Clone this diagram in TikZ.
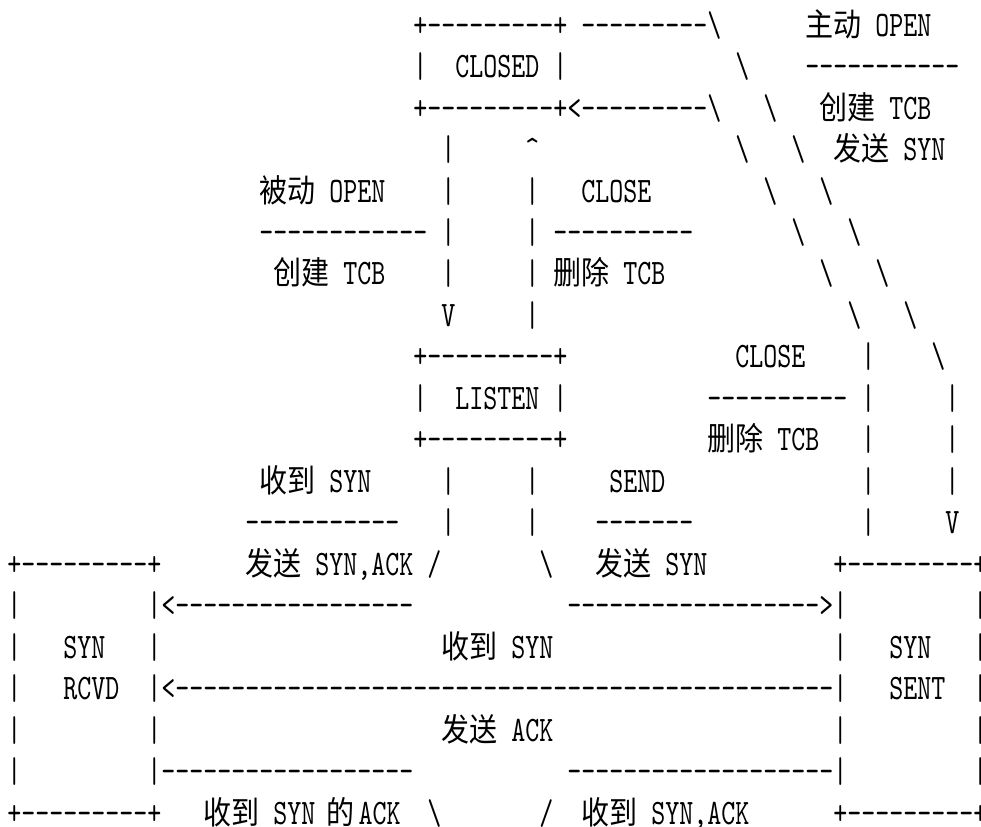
\documentclass[tikz,border=0pt]{standalone}
\usepackage{fontspec}
\usetikzlibrary{positioning}
\newfontfamily\ascfont[FakeStretch=0.744]{lmmono10-regular.otf}
\newfontfamily\hanfont[FakeStretch=0.874]{Noto Sans CJK SC}
\newcommand{\dashes}[1]{\foreach\k in {1,...,#1}{-}}
\newcommand{\bks}{\textbackslash}
\tikzset{
  asc/.style={anchor=base west,inner sep=0pt,outer sep=0pt,font=\ascfont\fontsize{25.5}{28}\selectfont},
  han/.style={anchor=base west,inner sep=0pt,outer sep=0pt,font=\hanfont\fontsize{22.8}{28}\selectfont},
  every picture/.style={x=0.35cm,y=-1.037cm}
}
\begin{document}
\begin{tikzpicture}
  \fill[white] (0.48,-0.87) rectangle (70.55,19.043);
  \useasboundingbox (0.48,-0.87) rectangle (70.55,19.043);
  % CLOSED and active open
  \node[asc] (r0a) at (30,0) {+\dashes{9}+}; \node[asc] (r0b) at (42,0) {\dashes{9}\bks};
  \node[han] (r0c) at (58,0) {主动}; \node[asc] (r0d) at (63,0) {OPEN};
  \node[asc] (r1a) at (30,1) {|}; \node[asc] (r1b) at (33,1) {CLOSED}; \node[asc] (r1c) at (40,1) {|};
  \node[asc] (r1d) at (53,1) {\bks}; \node[asc] (r1e) at (58,1) {\dashes{11}};
  \node[asc] (r2a) at (30,2) {+\dashes{9}+<\dashes{9}\bks}; \node[asc] (r2b) at (55,2) {\bks};
  \node[han] (r2c) at (59,2) {创建}; \node[asc] (r2d) at (64,2) {TCB};
  \node[asc] (r3a) at (32,3) {|}; \node[asc] (r3b) at (38,3) {\textasciicircum}; \node[asc] (r3c) at (53,3) {\bks};
  \node[asc] (r3d) at (57,3) {\bks}; \node[han] (r3e) at (60,3) {发送}; \node[asc] (r3f) at (65,3) {SYN};
  % passive open / close
  \node[han] (r4a) at (19,4) {被动}; \node[asc] (r4b) at (24,4) {OPEN}; \node[asc] (r4c) at (32,4) {|};
  \node[asc] (r4d) at (38,4) {|}; \node[asc] (r4e) at (42,4) {CLOSE}; \node[asc] (r4f) at (55,4) {\bks}; \node[asc] (r4g) at (59,4) {\bks};
  \node[asc] (r5a) at (19,5) {\dashes{12}}; \node[asc] (r5b) at (32,5) {|}; \node[asc] (r5c) at (38,5) {|};
  \node[asc] (r5d) at (40,5) {\dashes{10}}; \node[asc] (r5e) at (57,5) {\bks}; \node[asc] (r5f) at (61,5) {\bks};
  \node[han] (r6a) at (20,6) {创建}; \node[asc] (r6b) at (25,6) {TCB}; \node[asc] (r6c) at (32,6) {|}; \node[asc] (r6d) at (38,6) {|};
  \node[han] (r6e) at (40,6) {删除}; \node[asc] (r6f) at (45,6) {TCB}; \node[asc] (r6g) at (59,6) {\bks}; \node[asc] (r6h) at (63,6) {\bks};
  \node[asc] (r7a) at (32,7) {V}; \node[asc] (r7b) at (38,7) {|}; \node[asc] (r7c) at (61,7) {\bks}; \node[asc] (r7d) at (65,7) {\bks};
  % LISTEN
  \node[asc] (r8a) at (30,8) {+\dashes{9}+}; \node[asc] (r8b) at (53,8) {CLOSE}; \node[asc] (r8c) at (62,8) {|}; \node[asc] (r8d) at (67,8) {\bks};
  \node[asc] (r9a) at (30,9) {|}; \node[asc] (r9b) at (33,9) {LISTEN}; \node[asc] (r9c) at (40,9) {|};
  \node[asc] (r9d) at (51,9) {\dashes{10}}; \node[asc] (r9e) at (62,9) {|}; \node[asc] (r9f) at (68,9) {|};
  \node[asc] (r10a) at (30,10) {+\dashes{9}+}; \node[han] (r10b) at (51,10) {删除}; \node[asc] (r10c) at (56,10) {TCB};
  \node[asc] (r10d) at (62,10) {|}; \node[asc] (r10e) at (68,10) {|};
  \node[han] (r11a) at (19,11) {收到}; \node[asc] (r11b) at (24,11) {SYN}; \node[asc] (r11c) at (32,11) {|}; \node[asc] (r11d) at (38,11) {|};
  \node[asc] (r11e) at (44,11) {SEND}; \node[asc] (r11f) at (62,11) {|}; \node[asc] (r11g) at (68,11) {|};
  \node[asc] (r12a) at (18,12) {\dashes{11}}; \node[asc] (r12b) at (32,12) {|}; \node[asc] (r12c) at (38,12) {|};
  \node[asc] (r12d) at (43,12) {\dashes{7}}; \node[asc] (r12e) at (62,12) {|}; \node[asc] (r12f) at (68,12) {V};
  % SYN RCVD and SYN SENT
  \node[asc] (r13a) at (1,13) {+\dashes{9}+}; \node[han] (r13b) at (18,13) {发送}; \node[asc] (r13c) at (23,13) {SYN,ACK};
  \node[asc] (r13d) at (31,13) {/}; \node[asc] (r13e) at (39,13) {\bks}; \node[han] (r13f) at (43,13) {发送};
  \node[asc] (r13g) at (48,13) {SYN}; \node[asc] (r13h) at (60,13) {+\dashes{9}+};
  \node[asc] (r14a) at (1,14) {|}; \node[asc] (r14b) at (11,14) {|<\dashes{17}};
  \node[asc] (r14c) at (41,14) {\dashes{18}>|}; \node[asc] (r14d) at (70,14) {|};
  \node[asc] (r15a) at (1,15) {|}; \node[asc] (r15b) at (5,15) {SYN}; \node[asc] (r15c) at (11,15) {|};
  \node[han] (r15d) at (32,15) {收到}; \node[asc] (r15e) at (37,15) {SYN};
  \node[asc] (r15f) at (60,15) {|}; \node[asc] (r15g) at (64,15) {SYN}; \node[asc] (r15h) at (70,15) {|};
  \node[asc] (r16a) at (1,16) {|}; \node[asc] (r16b) at (5,16) {RCVD}; \node[asc] (r16c) at (11,16) {|<\dashes{47}|};
  \node[asc] (r16d) at (64,16) {SENT}; \node[asc] (r16e) at (70,16) {|};
  \node[asc] (r17a) at (1,17) {|}; \node[asc] (r17b) at (11,17) {|}; \node[han] (r17c) at (32,17) {发送};
  \node[asc] (r17d) at (37,17) {ACK}; \node[asc] (r17e) at (60,17) {|}; \node[asc] (r17f) at (70,17) {|};
  \node[asc] (r18a) at (1,18) {|}; \node[asc] (r18b) at (11,18) {|\dashes{18}};
  \node[asc] (r18c) at (41,18) {\dashes{19}|}; \node[asc] (r18d) at (70,18) {|};
  \node[asc] (r19a) at (1,19) {+\dashes{9}+}; \node[han] (r19b) at (15,19) {收到}; \node[asc] (r19c) at (20,19) {SYN};
  \node[han] (r19d) at (23.8,19) {的}; \node[asc] (r19e) at (26.1,19) {ACK}; \node[asc] (r19f) at (31,19) {\bks};
  \node[asc] (r19g) at (39,19) {/}; \node[han] (r19h) at (42,19) {收到}; \node[asc] (r19i) at (47,19) {SYN,ACK};
  \node[asc] (r19j) at (60,19) {+\dashes{9}+};
\end{tikzpicture}
\end{document}
